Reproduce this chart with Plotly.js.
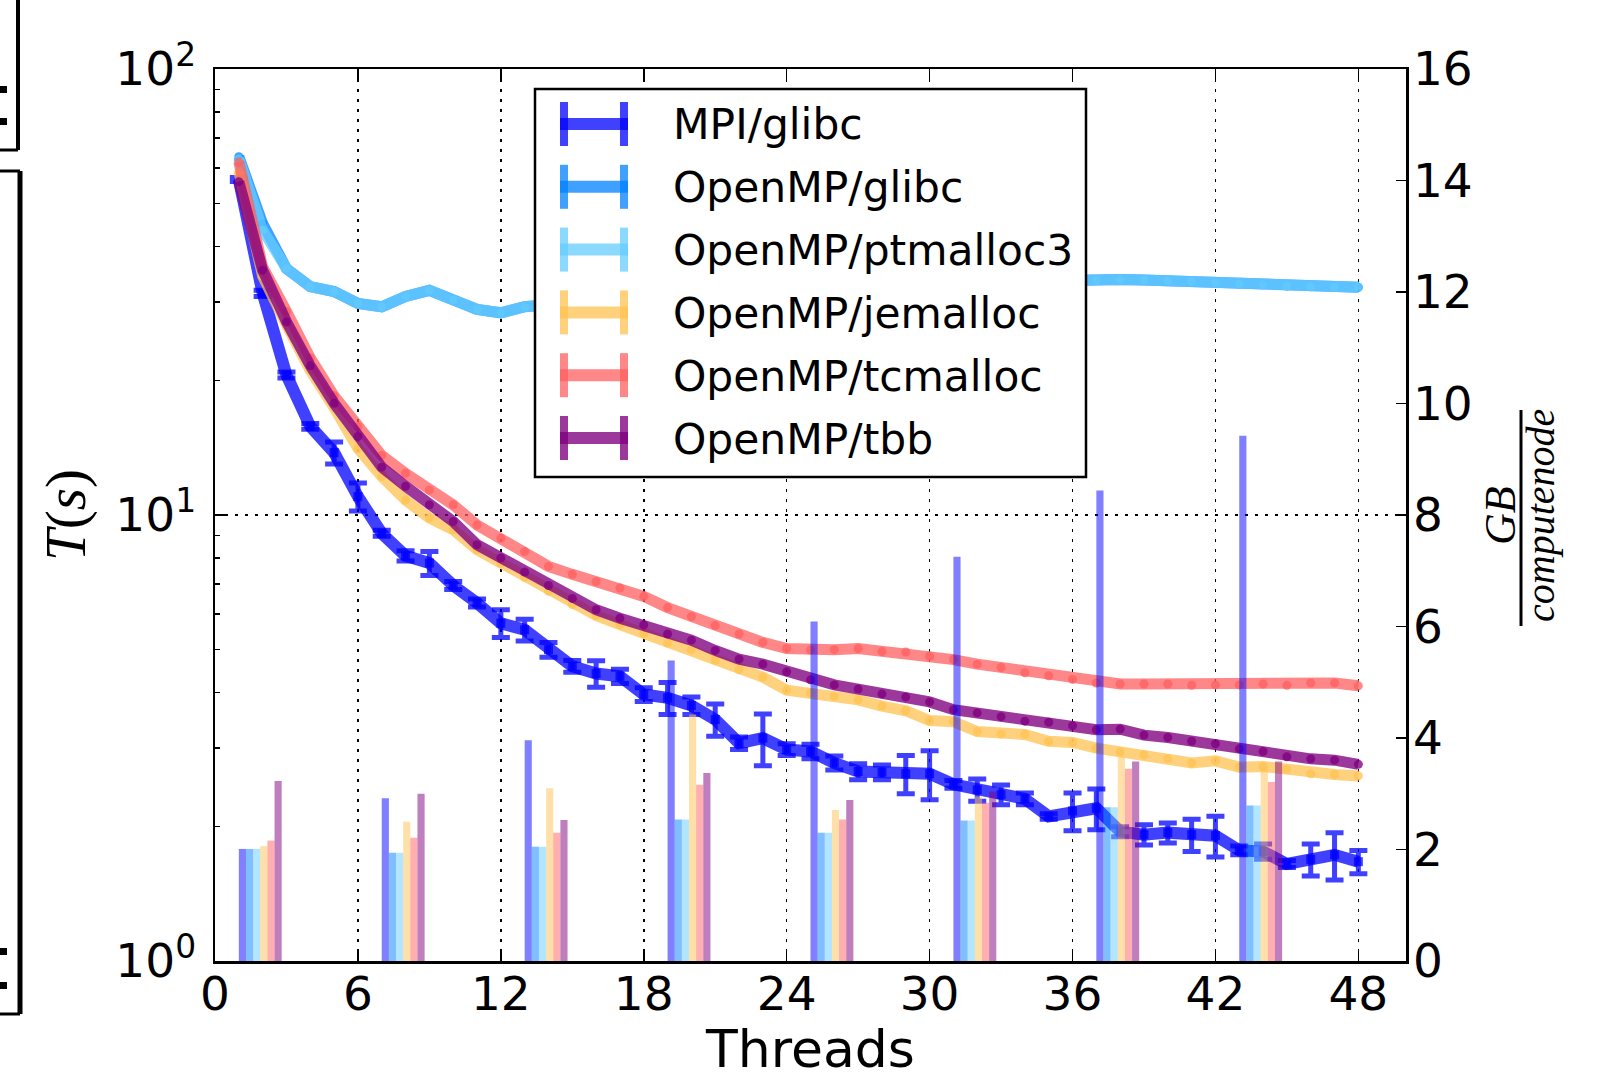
<!DOCTYPE html>
<html><head><meta charset="utf-8">
<script src="https://cdn.plot.ly/plotly-3.0.1.min.js"></script>
<style>html,body{margin:0;padding:0;background:#fff;} #chart{width:1609px;height:1079px;}</style>
</head><body><div id="chart"></div>
<script>
// ---------------- data ----------------
const threads = [1,2,3,4,5,6,7,8,9,10,11,12,13,14,15,16,17,18,19,20,21,22,23,24,25,26,27,28,29,30,31,32,33,34,35,36,37,38,39,40,41,42,43,44,45,46,47,48];
const seriesNames = ["MPI/glibc","OpenMP/glibc","OpenMP/ptmalloc3","OpenMP/jemalloc","OpenMP/tcmalloc","OpenMP/tbb"];

const timeMPI = [56.5,31.4,20.6,15.8,13.8,11.0,9.1,8.1,7.8,6.95,6.35,5.72,5.53,4.99,4.58,4.41,4.35,3.96,3.89,3.74,3.48,3.08,3.16,2.98,2.95,2.78,2.66,2.65,2.63,2.63,2.49,2.42,2.36,2.31,2.11,2.17,2.20,1.95,1.92,1.94,1.92,1.91,1.77,1.76,1.65,1.69,1.73,1.67];
const errMPI  = [0.58,0.49,0.32,0.24,0.78,0.79,0.14,0.21,0.48,0.14,0.13,0.41,0.31,0.19,0.14,0.30,0.16,0.14,0.32,0.17,0.29,0.10,0.42,0.09,0.11,0.10,0.11,0.10,0.26,0.33,0.05,0.14,0.12,0.07,0.03,0.21,0.23,0.05,0.10,0.10,0.16,0.20,0.04,0.07,0.03,0.14,0.21,0.10];
const timeGlibc = [63.6,45.0,35.7,32.5,31.7,29.8,29.3,30.9,31.9,30.4,28.9,28.4,29.3,29.6,29.8,30.1,30.5,30.8,31.1,31.4,31.6,31.9,32.1,32.3,32.5,32.7,32.8,33.0,33.1,33.2,33.3,33.4,33.4,33.5,33.5,33.5,33.58,33.75,33.64,33.52,33.41,33.18,33.01,32.84,32.62,32.51,32.45,32.40];
const timePtmalloc3 = [62.8,43.5,35.7,32.5,31.7,29.8,29.3,30.9,31.9,30.4,28.9,28.4,29.3,29.6,29.8,30.1,30.5,30.8,31.1,31.4,31.6,31.9,32.1,32.3,32.5,32.7,32.8,33.0,33.1,33.2,33.3,33.4,33.4,33.5,33.5,33.5,33.58,33.75,33.64,33.52,33.41,33.18,33.01,32.84,32.62,32.51,32.45,32.40];
const timeJemalloc = [58.8,34.3,26.7,21.1,17.4,14.1,12.2,10.8,9.84,9.26,8.36,7.8,7.25,6.75,6.3,5.95,5.68,5.42,5.16,4.99,4.72,4.50,4.33,4.05,3.99,3.92,3.85,3.73,3.64,3.46,3.44,3.27,3.23,3.22,3.11,3.09,3.00,2.94,2.90,2.84,2.78,2.81,2.72,2.73,2.69,2.63,2.62,2.60];
const timeTcmalloc = [61.9,36.0,28.6,22.5,18.5,15.8,13.6,12.4,11.38,10.54,9.50,8.87,8.28,7.67,7.36,7.09,6.86,6.57,6.2,5.92,5.65,5.41,5.18,5.02,4.98,4.99,5.02,4.94,4.93,4.82,4.74,4.63,4.55,4.43,4.36,4.28,4.20,4.18,4.18,4.18,4.15,4.16,4.16,4.18,4.15,4.20,4.20,4.14];
const timeTbb = [55.9,35.4,27.1,21.6,17.8,15.0,12.8,11.6,10.54,9.67,8.58,8.01,7.45,6.95,6.5,6.13,5.87,5.67,5.41,5.24,4.97,4.75,4.63,4.45,4.27,4.16,4.07,3.97,3.91,3.81,3.66,3.60,3.53,3.45,3.43,3.37,3.30,3.31,3.21,3.17,3.11,3.07,2.99,2.95,2.87,2.84,2.82,2.76];

// memory bars (GB per compute node), one group every 6 threads
const memThreads = [1,7,13,19,25,31,37,43];
const memMPI       = [2.01,2.92,3.96,5.39,6.09,7.25,8.44,9.42];
const memGlibc     = [2.01,1.94,2.05,2.54,2.30,2.52,2.76,2.79];
const memPtmalloc3 = [2.01,1.94,2.05,2.54,2.30,2.52,2.76,2.79];
const memJemalloc  = [2.06,2.50,3.10,4.42,2.71,2.95,3.66,3.45];
const memTcmalloc  = [2.16,2.21,2.30,3.16,2.54,2.84,3.45,3.21];
const memTbb       = [3.23,3.00,2.53,3.37,2.89,3.04,3.58,3.58];

const xTicks = [0,6,12,18,24,30,36,42,48];
const yTicks = [1,10,100];
const yTickText = ["10<sup>0</sup>","10<sup>1</sup>","10<sup>2</sup>"];
const yMinor = [2,3,4,5,6,7,8,9,20,30,40,50,60,70,80,90];
const y2Ticks = [0,2,4,6,8,10,12,14,16];

// ---------------- styling ----------------
const lineColors = ["rgba(0,0,255,0.75)","rgba(0,128,255,0.75)","rgba(102,204,255,0.75)","rgba(255,193,81,0.75)","rgba(255,95,95,0.75)","rgba(128,0,128,0.78)"];
const barColors  = ["rgba(0,0,255,0.5)","rgba(0,128,255,0.5)","rgba(102,204,255,0.5)","rgba(255,193,81,0.5)","rgba(255,95,95,0.5)","rgba(128,0,128,0.5)"];
const times = [timeMPI,timeGlibc,timePtmalloc3,timeJemalloc,timeTcmalloc,timeTbb];
const mems  = [memMPI,memGlibc,memPtmalloc3,memJemalloc,memTcmalloc,memTbb];

const FONT = "DejaVu Sans, sans-serif";
const SERIF = "Liberation Serif, serif";
const W=1609,H=1079,ML=215,MR=203,MT=69,MB=118;
const PW=W-ML-MR, PH=H-MT-MB;
const px = v => (v-ML)/PW;
const py = v => 1-(v-MT)/PH;

const traces = [];
times.forEach((ys,i)=>{
  const t = {
    type:'scatter', mode:'lines+markers', name: seriesNames[i], showlegend:false,
    x: threads, y: ys, xaxis:'x', yaxis:'y',
    line:{color:lineColors[i], width: i===0 ? 12 : 11},
    marker:{color:lineColors[i], size:9, symbol: i===0?'square':'circle', line:{width:0}},
  };
  if(i===0){
    t.error_y = {type:'data', array: errMPI, visible:true, color:lineColors[0], thickness:5, width:9};
  }
  traces.push(t);
});
mems.forEach((ys,i)=>{
  traces.push({
    type:'bar', name: seriesNames[i]+' memory', x: memThreads, y: ys, xaxis:'x', yaxis:'y2',
    width:0.3, offset:0.3*i, showlegend:false, hoverinfo:'skip',
    marker:{color:barColors[i], line:{width:0}}
  });
});

const ln = (x0,y0,x1,y1,w,c)=>({type:'line',xref:'paper',yref:'paper',x0:px(x0),y0:py(y0),x1:px(x1),y1:py(y1),line:{color:c||'black',width:w}});
const dot = (x0,y0,x1,y1)=>({type:'rect',xref:'paper',yref:'paper',x0:px(x0),y0:py(y0),x1:px(x1),y1:py(y1),fillcolor:'black',line:{width:0}});

const shapes = [
  ln(18,-5,18,150,4), ln(-2,150,18,150,3),
  dot(0,86,7,93), dot(0,118,7,125),
  ln(-2,171,20,171,3), ln(20,171,20,1014,5), ln(-2,1014,20,1014,3),
  dot(0,948,7,955), dot(0,982,7,989),
  ln(1521,410,1521,626,3)
];

// legend (drawn as errorbar "H" handles + text, like the original)
const LEG = {x0:535, y0:89, x1:1086, y1:477, row0:124, rowStep:62.8, hx0:560, hx1:628, textX:671};
shapes.push({type:'rect',xref:'paper',yref:'paper',x0:px(LEG.x0),y0:py(LEG.y0),x1:px(LEG.x1),y1:py(LEG.y1),
  fillcolor:'white',line:{color:'black',width:2.5}});
const annotations = [];
seriesNames.forEach((nm,i)=>{
  const yc = LEG.row0 + LEG.rowStep*i;
  shapes.push(ln(LEG.hx0, yc, LEG.hx1, yc, 12, lineColors[i]));
  shapes.push(ln(LEG.hx0+4, yc-22, LEG.hx0+4, yc+22, 8, lineColors[i]));
  shapes.push(ln(LEG.hx1-4, yc-22, LEG.hx1-4, yc+22, 8, lineColors[i]));
  annotations.push({xref:'paper',yref:'paper',x:px(LEG.textX),y:py(yc+1),text:nm,showarrow:false,
    xanchor:'left',yanchor:'middle',font:{size:42.4,family:FONT,color:'black'}});
});
annotations.push(
  {xref:'paper',yref:'paper',x:px(1500),y:py(516),text:'<i>GB</i>',showarrow:false,textangle:-90,
   font:{size:44,family:SERIF},xanchor:'center',yanchor:'middle'},
  {xref:'paper',yref:'paper',x:px(1540),y:py(516),text:'<i>computenode</i>',showarrow:false,textangle:-90,
   font:{size:40,family:SERIF},xanchor:'center',yanchor:'middle'}
);

const layout = {
  width:W, height:H, paper_bgcolor:'white', plot_bgcolor:'white',
  margin:{l:ML,r:MR,t:MT,b:MB,pad:0},
  font:{family:FONT,color:'black',size:47},
  barmode:'overlay', showlegend:false,
  xaxis:{range:[0,50], tickvals:xTicks, ticks:'inside', ticklen:10, tickwidth:1.5, tickcolor:'black',
    showline:true, linewidth:2.5, linecolor:'black', mirror:'ticks',
    showgrid:true, gridcolor:'black', gridwidth:1.5, griddash:'3px,7px', zeroline:false,
    tickfont:{size:47,family:FONT}, automargin:false, ticklabelstandoff:-10,
    title:{text:'Threads', font:{size:52,family:FONT}, standoff:20}},
  yaxis:{type:'log', range:[0,2], tickvals:yTicks, ticktext:yTickText, ticks:'inside', ticklen:10, tickwidth:1.5, tickcolor:'black',
    showline:true, linewidth:2.5, linecolor:'black', mirror:false,
    showgrid:true, gridcolor:'black', gridwidth:1.5, griddash:'3px,7px', zeroline:false,
    minor:{tickvals:yMinor, ticks:'inside', ticklen:5, tickwidth:1.5, tickcolor:'black', showgrid:false},
    tickfont:{size:47,family:FONT}, automargin:false, ticklabelstandoff:7,
    title:{text:'<i>T</i>(<i>s</i>)', font:{size:57,family:SERIF}, standoff:12}},
  yaxis2:{overlaying:'y', side:'right', range:[0,16], tickvals:y2Ticks, ticks:'inside', ticklen:10, tickwidth:1.5, tickcolor:'black',
    showline:true, linewidth:2.5, linecolor:'black', showgrid:false, zeroline:false,
    tickfont:{size:47,family:FONT}, automargin:false, ticklabelstandoff:-5},
  shapes: shapes,
  annotations: annotations
};

Plotly.newPlot('chart', traces, layout, {displayModeBar:false, staticPlot:true});
</script>
</body></html>
